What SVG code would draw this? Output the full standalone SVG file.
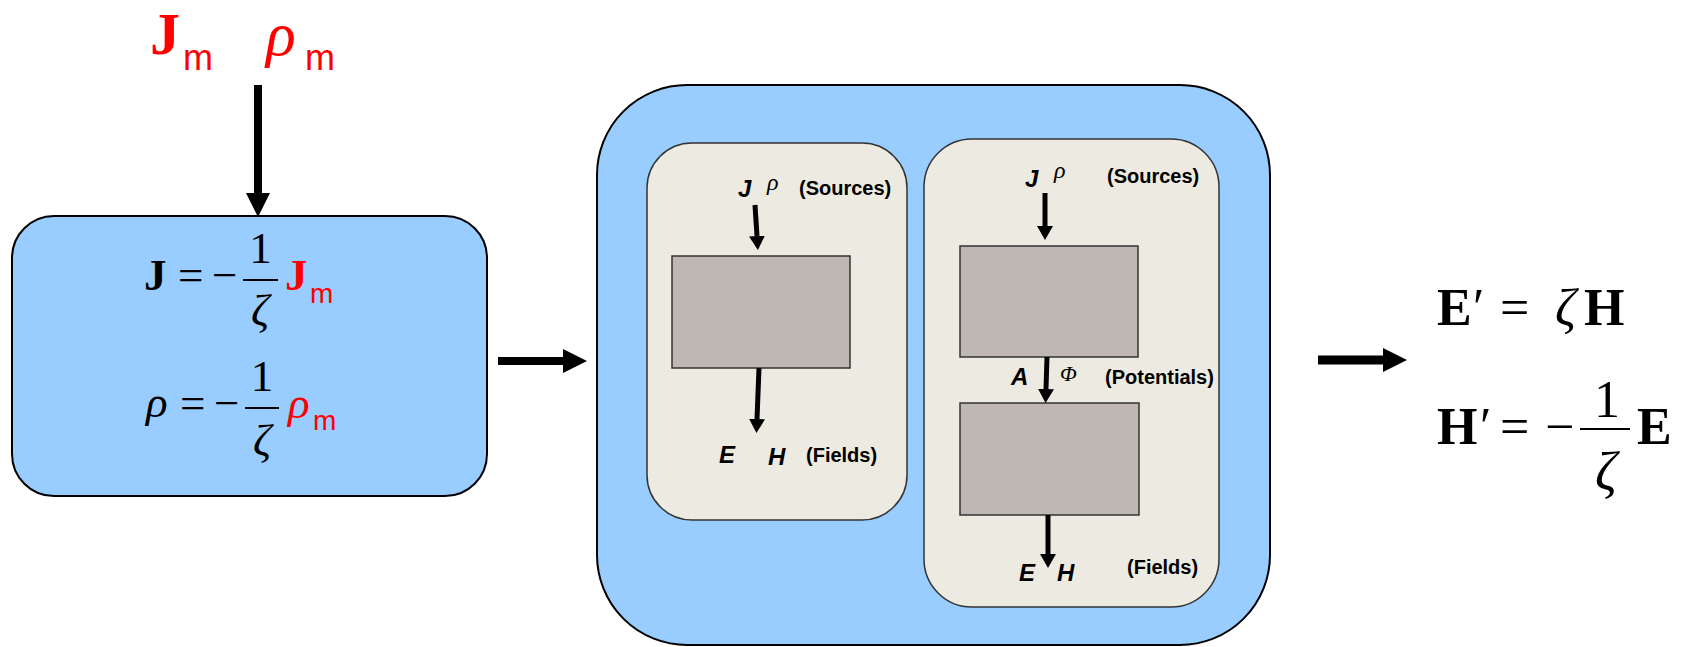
<svg xmlns="http://www.w3.org/2000/svg" width="1681" height="647" viewBox="0 0 1681 647">
  <style>
    .math { font-family: "Liberation Serif", "Times New Roman", serif; font-size: 45px; fill: #000; }
    .eq2 { font-size: 52px; }
    .bold { font-weight: bold; }
    .ital { font-style: italic; }
    .red { fill: #ff0000; }
    .sub { font-family: "Liberation Sans", Arial, sans-serif; font-size: 28px; }
    .lbl { font-family: "Liberation Sans", Arial, sans-serif; font-size: 20px; font-weight: bold; fill: #000; }
    .var { font-family: "Liberation Sans", Arial, sans-serif; font-size: 24px; font-style: italic; font-weight: bold; fill: #000; }
    .greek { font-family: "Liberation Serif", "Times New Roman", serif; font-size: 24px; font-style: italic; fill: #000; }
    .bar { stroke: #000; stroke-width: 2; }
    .bigbox { fill: #99ccff; stroke: #000; stroke-width: 2; }
    .panel { fill: #edebe1; stroke: #333; stroke-width: 1.5; }
    .gray { fill: #bfb7b2; stroke: #333; stroke-width: 1.5; }
    .shaft { stroke: #000; fill: none; }
  </style>
  <defs>
    <marker id="headBig" markerUnits="userSpaceOnUse" viewBox="0 0 24 24" markerWidth="24" markerHeight="24" refX="0" refY="12" orient="auto">
      <path d="M0,0 L24,12 L0,24 Z" fill="#000"/>
    </marker>
    <marker id="headSmall" markerUnits="userSpaceOnUse" viewBox="0 0 14 16" markerWidth="14" markerHeight="16" refX="0" refY="8" orient="auto">
      <path d="M0,0 L14,8 L0,16 Z" fill="#000"/>
    </marker>
  </defs>

  <!-- magnetic sources -->
  <g id="magnetic-sources">
    <text class="math bold red" x="150" y="54" style="font-size:60px">J</text>
    <text class="sub red" x="183" y="70" style="font-size:36px">m</text>
    <text class="math ital red" x="266" y="55" style="font-size:62px">ρ</text>
    <text class="sub red" x="305" y="70" style="font-size:36px">m</text>
  </g>

  <!-- duality mapping of sources -->
  <g id="source-mapping">
    <rect class="bigbox" x="12" y="216" width="475" height="280" rx="42" ry="42"/>
    <text class="math bold" x="144" y="290">J</text>
    <text class="math" x="178" y="290">=</text>
    <text class="math" x="212" y="290">−</text>
    <line class="bar" x1="243" y1="280" x2="278" y2="280"/>
    <text class="math" x="260.5" y="263" text-anchor="middle">1</text>
    <text class="math ital" x="260" y="325" text-anchor="middle">ζ</text>
    <text class="math bold red" x="285" y="290">J</text>
    <text class="sub red" x="310" y="303">m</text>

    <text class="math ital" x="146" y="417">ρ</text>
    <text class="math" x="180" y="418">=</text>
    <text class="math" x="214" y="418">−</text>
    <line class="bar" x1="245" y1="408" x2="279" y2="408"/>
    <text class="math" x="262" y="391" text-anchor="middle">1</text>
    <text class="math ital" x="262" y="455" text-anchor="middle">ζ</text>
    <text class="math ital red" x="288" y="418">ρ</text>
    <text class="sub red" x="313" y="430">m</text>
  </g>

  <!-- field solution methods -->
  <g id="solver">
    <rect class="bigbox" x="597" y="85" width="673" height="560" rx="90" ry="90"/>
  </g>

  <g id="direct-method">
    <rect class="panel" x="647" y="143" width="260" height="377" rx="45" ry="45"/>
    <rect class="gray" x="672" y="256" width="178" height="112"/>
    <text class="var" x="738" y="197">J</text>
    <text class="greek" x="767" y="190">ρ</text>
    <text class="lbl" x="799" y="195">(Sources)</text>
    <text class="var" x="719" y="463">E</text>
    <text class="var" x="768" y="465">H</text>
    <text class="lbl" x="806" y="462">(Fields)</text>
  </g>

  <g id="potential-method">
    <rect class="panel" x="924" y="139" width="295" height="468" rx="48" ry="48"/>
    <rect class="gray" x="960" y="246" width="178" height="111"/>
    <rect class="gray" x="960" y="403" width="179" height="112"/>
    <text class="var" x="1025" y="187">J</text>
    <text class="greek" x="1054" y="178">ρ</text>
    <text class="lbl" x="1107" y="183">(Sources)</text>
    <text class="var" x="1011" y="385">A</text>
    <text class="greek" x="1060" y="381" style="font-size:22px">Φ</text>
    <text class="lbl" x="1105" y="384">(Potentials)</text>
    <text class="var" x="1019" y="581">E</text>
    <text class="var" x="1057" y="581">H</text>
    <text class="lbl" x="1127" y="574">(Fields)</text>
  </g>

  <!-- dual fields -->
  <g id="dual-fields">
    <text class="math eq2 bold" x="1437" y="325">E</text>
    <text class="math eq2" x="1473" y="325">′</text>
    <text class="math eq2" x="1500" y="325">=</text>
    <text class="math eq2 ital" x="1555" y="325">ζ</text>
    <text class="math eq2 bold" x="1584" y="325">H</text>

    <text class="math eq2 bold" x="1437" y="444">H</text>
    <text class="math eq2" x="1480" y="444">′</text>
    <text class="math eq2" x="1500" y="444">=</text>
    <text class="math eq2" x="1545" y="444">−</text>
    <line class="bar" x1="1580" y1="429" x2="1630" y2="429"/>
    <text class="math eq2" x="1607" y="417" text-anchor="middle">1</text>
    <text class="math ital" x="1606" y="490" text-anchor="middle" style="font-size:54px">ζ</text>
    <text class="math eq2 bold" x="1637" y="444">E</text>
  </g>

  <!-- connectors -->
  <g id="connectors">
    <line class="shaft" x1="258" y1="85" x2="258" y2="193" stroke-width="8" marker-end="url(#headBig)"/>
    <line class="shaft" x1="498" y1="361" x2="563" y2="361" stroke-width="8" marker-end="url(#headBig)"/>
    <line class="shaft" x1="1318" y1="360" x2="1383" y2="360" stroke-width="9" marker-end="url(#headBig)"/>
    <line class="shaft" x1="755" y1="205" x2="757" y2="236" stroke-width="5" marker-end="url(#headSmall)"/>
    <line class="shaft" x1="759" y1="368" x2="757" y2="419" stroke-width="5" marker-end="url(#headSmall)"/>
    <line class="shaft" x1="1045" y1="193" x2="1045" y2="226" stroke-width="5" marker-end="url(#headSmall)"/>
    <line class="shaft" x1="1047" y1="357" x2="1046" y2="389" stroke-width="5" marker-end="url(#headSmall)"/>
    <line class="shaft" x1="1048" y1="515" x2="1048" y2="554" stroke-width="5" marker-end="url(#headSmall)"/>
  </g>
</svg>
